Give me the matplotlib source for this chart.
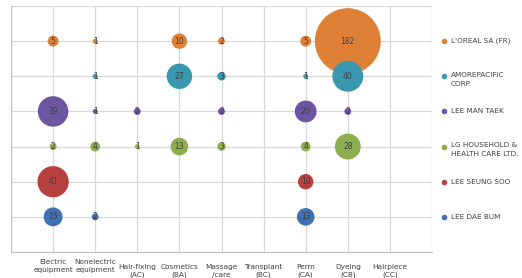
import numpy as np
import matplotlib
matplotlib.use("Agg")
import matplotlib.pyplot as plt

# --- data ---
categories = ["Electric\nequipment", "Nonelectric\nequipment", "Hair-fixing\n(AC)",
              "Cosmetics\n(BA)", "Massage\n/care", "Transplant\n(BC)", "Perm\n(CA)",
              "Dyeing\n(CB)", "Hairpiece\n(CC)"]
applicants = ["L'OREAL SA (FR)", "AMOREPACIFIC\nCORP.", "LEE MAN TAEK",
              "LG HOUSEHOLD &\nHEALTH CARE LTD.", "LEE SEUNG SOO", "LEE DAE BUM"]
colors = ["#DE8137", "#3A97AE", "#6E55A0", "#8CAE4E", "#B7413F", "#3F6FB5"]

# counts per applicant, one entry per category (0 = no bubble)
loreal      = [5, 1, 0, 10, 2, 0, 5, 182, 0]
amore       = [0, 1, 0, 27, 3, 0, 1, 40, 0]
lee_man     = [39, 1, 2, 0, 2, 0, 20, 2, 0]
lg          = [2, 4, 1, 13, 3, 0, 4, 28, 0]
lee_seung   = [41, 0, 0, 0, 0, 0, 10, 0, 0]
lee_dae     = [15, 2, 0, 0, 0, 0, 13, 0, 0]
series = [loreal, amore, lee_man, lg, lee_seung, lee_dae]

fig = plt.figure(figsize=(5.22, 2.78), dpi=100)
ax = fig.add_axes([11/522, 26/278, 421/522, 246/278])

vmax = max(max(s) for s in series)
smax = 2250  # marker area (pt^2) of the largest bubble
for i, (vals, name, c) in enumerate(zip(series, applicants, colors)):
    yrow = len(series) - i
    x = np.array([j + 1 for j, v in enumerate(vals) if v > 0])
    v = np.array([v for v in vals if v > 0])
    ax.scatter(x, np.full(len(x), yrow), s=smax * v / vmax, color=c,
               edgecolors="none", zorder=3, label=name)
    for xx, vv in zip(x, v):
        ax.text(xx, yrow, str(vv), ha="center", va="center", fontsize=5.5,
                color="#404040", zorder=4)

ax.set_xlim(0, 10)
ax.set_ylim(0, 7)
ax.set_xticks(np.arange(0, 11))
ax.set_yticks(np.arange(0, 8))
ax.grid(True, color="#D9D9D9", lw=0.9, zorder=0)
ax.tick_params(length=0, labelleft=False, labelbottom=False)
for sp in ax.spines.values():
    sp.set_visible(False)
ax.spines["left"].set_visible(True)
ax.spines["bottom"].set_visible(True)
ax.spines["left"].set_color("#BFBFBF")
ax.spines["bottom"].set_color("#BFBFBF")

# category labels under the grid (first two sit a little higher, as in the source)
for j, lab in enumerate(categories):
    ytop = -0.19 if j < 2 else -0.33
    ax.text(j + 1, ytop, lab, ha="center", va="top", fontsize=5.3,
            color="#404040", linespacing=1.45, clip_on=False)

# legend on the right, one entry per row
for i, (name, c) in enumerate(zip(applicants, colors)):
    yrow = len(series) - i
    yy = yrow - 0.08 if "\n" in name else yrow
    ax.scatter([10.28], [yrow], s=9, color=c, clip_on=False)
    ax.text(10.45, yy, name, ha="left", va="center", fontsize=5.2,
            color="#404040", linespacing=1.6, clip_on=False)

fig.savefig("out.png", dpi=100)
